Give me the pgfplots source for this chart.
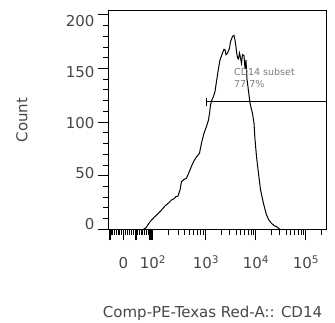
\documentclass[border=0pt]{standalone}
\usepackage{pgfplots}
\pgfplotsset{compat=1.18}
\usepackage{fontspec}
\setmainfont{DejaVu Sans}
\definecolor{labelgray}{HTML}{474747}
\definecolor{gategray}{HTML}{7A7A7A}

% Histogram of Comp-PE-Texas Red-A (CD14), x in display (biexponential) units
\pgfplotstableread{
u     count
1.75  0
1.80  1.5
1.88  7
1.96  11
2.05  15
2.12  18.5
2.18  21.8
2.25  24.5
2.31  27.4
2.36  28.5
2.40  30.5
2.44  31
2.48  36.7
2.51  44.5
2.56  46.5
2.61  47.7
2.65  52
2.68  55.4
2.72  60
2.75  63
2.80  67
2.87  71
2.91  80.4
2.96  89.7
3.01  95.9
3.05  102
3.07  108
3.09  116
3.12  121
3.15  124
3.18  128.6
3.21  138
3.25  150
3.28  158
3.33  164.5
3.36  168
3.38  167.6
3.40  163
3.43  164.5
3.47  169
3.49  175
3.53  180
3.56  181
3.59  174
3.61  166
3.63  160
3.65  159
3.67  164.5
3.69  160
3.71  155
3.73  163
3.76  162
3.78  150
3.80  158
3.82  140
3.85  129
3.88  118
3.93  108
3.96  99
3.98  84
4.01  68
4.05  52
4.09  37
4.15  24
4.21  13.4
4.26  8.5
4.31  5.6
4.36  3.5
4.41  2.4
4.48  0
}\histdata

\begin{document}
\begin{tikzpicture}
\path[use as bounding box] (-109pt,-92.7pt) rectangle (226pt,229.3pt);
\begin{axis}[
  at={(0,0)}, anchor=south west,
  scale only axis, width=218pt, height=218.6pt,
  xmin=1.06, xmax=5.42, ymin=0, ymax=204,
  axis line style={line width=1pt},
  tick align=outside, xtick pos=lower, ytick pos=left,
  major tick length=11pt, minor tick length=5.5pt,
  every tick/.style={black, line width=1pt},
  ytick={0,50,...,200},
  minor ytick={10,20,30,40,60,70,80,90,110,120,130,140,160,170,180,190},
  xtick={1.35,1.94,3,4,5},
  xticklabels={0,10\textsuperscript{2},10\textsuperscript{3},10\textsuperscript{4},10\textsuperscript{5}},
  minor xtick={1.11,1.14,1.18,1.22,1.25,1.28,1.32,1.40,1.44,1.48,1.52,1.56,1.64,1.68,1.71,1.74,1.78,1.82,1.85,
    2.26,2.45,2.58,2.68,2.76,2.84,2.90,2.95,
    3.301,3.477,3.602,3.699,3.778,3.845,3.903,3.954,
    4.301,4.477,4.602,4.699,4.778,4.845,4.903,4.954,
    5.301},
  extra x ticks={1.08,1.60,1.88,1.91},
  extra x tick labels={},
  extra x tick style={major tick length=11pt, every tick/.append style={line width=1.4pt}},
  /pgf/number format/assume math mode=true,
  tick label style={text=labelgray, font=\fontsize{15}{18}\selectfont},
  xticklabel style={anchor=base, yshift=-28pt},
  yticklabel style={yshift={5pt-2.75pt*\ticknum}},
  xlabel={Comp-PE-Texas Red-A:: CD14},
  ylabel={Count},
  label style={text=labelgray, font=\fontsize{15}{18}\selectfont},
  xlabel style={at={(axis description cs:0.475,-0.404)}, anchor=base},
  ylabel style={at={(axis description cs:-0.399,0.5)}, anchor=center},
  clip=false,
]
\addplot[black, line width=1pt] table[x=u, y=count] {\histdata};
% gate
\addplot[black, line width=1pt] coordinates {(3.01,119) (5.42,119)};
\addplot[black, line width=1pt] coordinates {(3.01,115) (3.01,123)};
\node[anchor=north west, inner sep=0pt, align=left, text=gategray,
  font=\fontsize{9.5}{12}\selectfont] at (axis cs:3.56,150) {CD14 subset\\77.7\%};
\end{axis}
\end{tikzpicture}
\end{document}
